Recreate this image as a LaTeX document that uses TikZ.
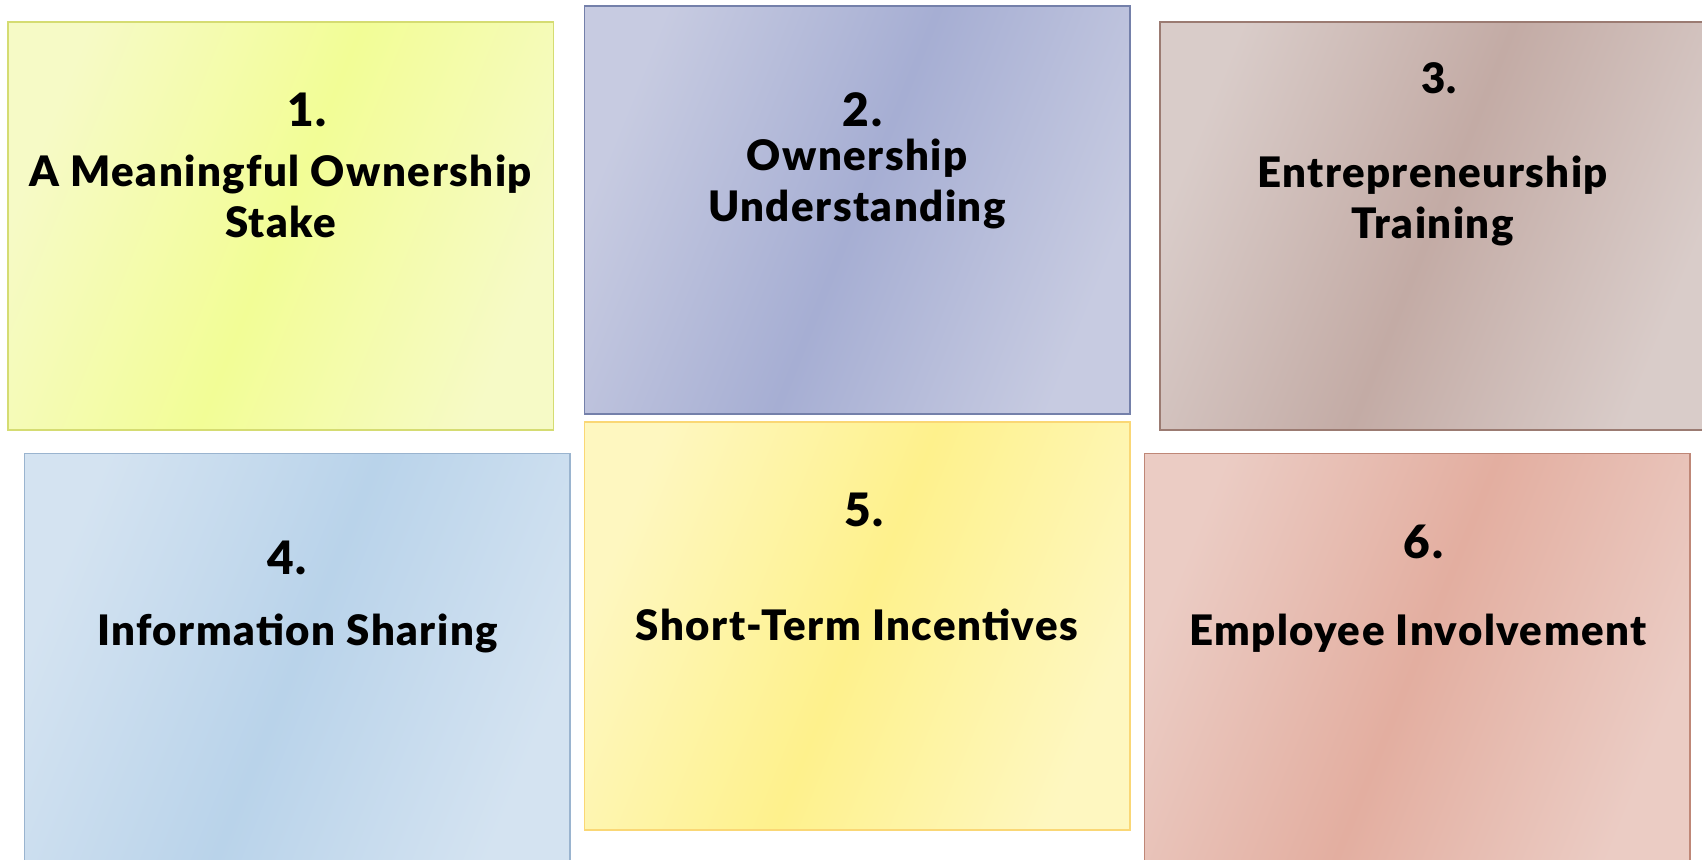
\documentclass[tikz,border=0pt]{standalone}
\usepackage{fontspec}
\setmainfont{Lato}[BoldFont={Lato Black}, BoldFeatures={LetterSpace=3.5}]
\begin{document}
% one unit = one pixel of a 1702 x 859 canvas, y grows downwards
\begin{tikzpicture}[x=0.5pt,y=-0.5pt,
  tile/.style={draw=#1border, line width=0.8pt, rectangle, inner sep=0pt,
    minimum width=272.7pt, minimum height=204.15pt,
    left color=#1edge, right color=#1edge, middle color=#1mid, shading angle=68},
  tiletext/.style={anchor=base, align=center, inner sep=0pt, text=black,
    font=\bfseries\fontsize{21}{25.4}\selectfont},
  tilenum/.style={anchor=base, inner sep=0pt, text=black,
    font=\bfseries\fontsize{#1}{#1}\selectfont},
  tilenum/.default=23]
\definecolor{aedge}{HTML}{F6FAC6}\definecolor{amid}{HTML}{F2FD96}\definecolor{aborder}{HTML}{D5DC72}
\definecolor{bedge}{HTML}{C7CBE1}\definecolor{bmid}{HTML}{A6AED3}\definecolor{bborder}{HTML}{7480AA}
\definecolor{cedge}{HTML}{D9CCC9}\definecolor{cmid}{HTML}{C3ABA5}\definecolor{cborder}{HTML}{9B7B72}
\definecolor{dedge}{HTML}{D4E3F1}\definecolor{dmid}{HTML}{B9D3EA}\definecolor{dborder}{HTML}{9AB4CF}
\definecolor{eedge}{HTML}{FEF7C0}\definecolor{emid}{HTML}{FEF18C}\definecolor{eborder}{HTML}{FAD775}
\definecolor{fedge}{HTML}{EBCCC4}\definecolor{fmid}{HTML}{E3AEA0}\definecolor{fborder}{HTML}{BF8777}

\useasboundingbox (0,0) rectangle (1702,859);
\clip (0,0) rectangle (1702,859);

% the six tiles
\node[tile=a] (t1) at (280.8,225.85) {};
\node[tile=b] (t2) at (857,209.85) {};
\node[tile=c] (t3) at (1432.65,225.85) {};
\node[tile=d] (t4) at (297,657.45) {};
\node[tile=e] (t5) at (857,625.85) {};
\node[tile=f] (t6) at (1417.1,657.45) {};

% numbers
\node[tilenum] (n1) at (307,126) {1.};
\node[tilenum] (n2) at (862.5,126) {2.};
\node[tilenum=21] (n3) at (1439,93.3) {3.};
\node[tilenum] (n4) at (287,574) {4.};
\node[tilenum] (n5) at (864,526) {5.};
\node[tilenum] (n6) at (1423.4,558.3) {6.};

% titles (a two-line node sits on the baseline of its last line)
\node[tiletext] (l1) at (280.8,237.3) {A Meaningful Ownership\\Stake};
\node[tiletext] (l2) at (857,221.7) {Ownership\\Understanding};
\node[tiletext] (l3) at (1432.6,238.3) {Entrepreneurship\\Training};
\node[tiletext] (l4) at (297.5,645.7) {Information Sharing};
\node[tiletext] (l5) at (857,640.7) {Short-Term Incentives};
\node[tiletext] (l6) at (1417.9,645.7) {Employee Involvement};
\end{tikzpicture}
\end{document}
